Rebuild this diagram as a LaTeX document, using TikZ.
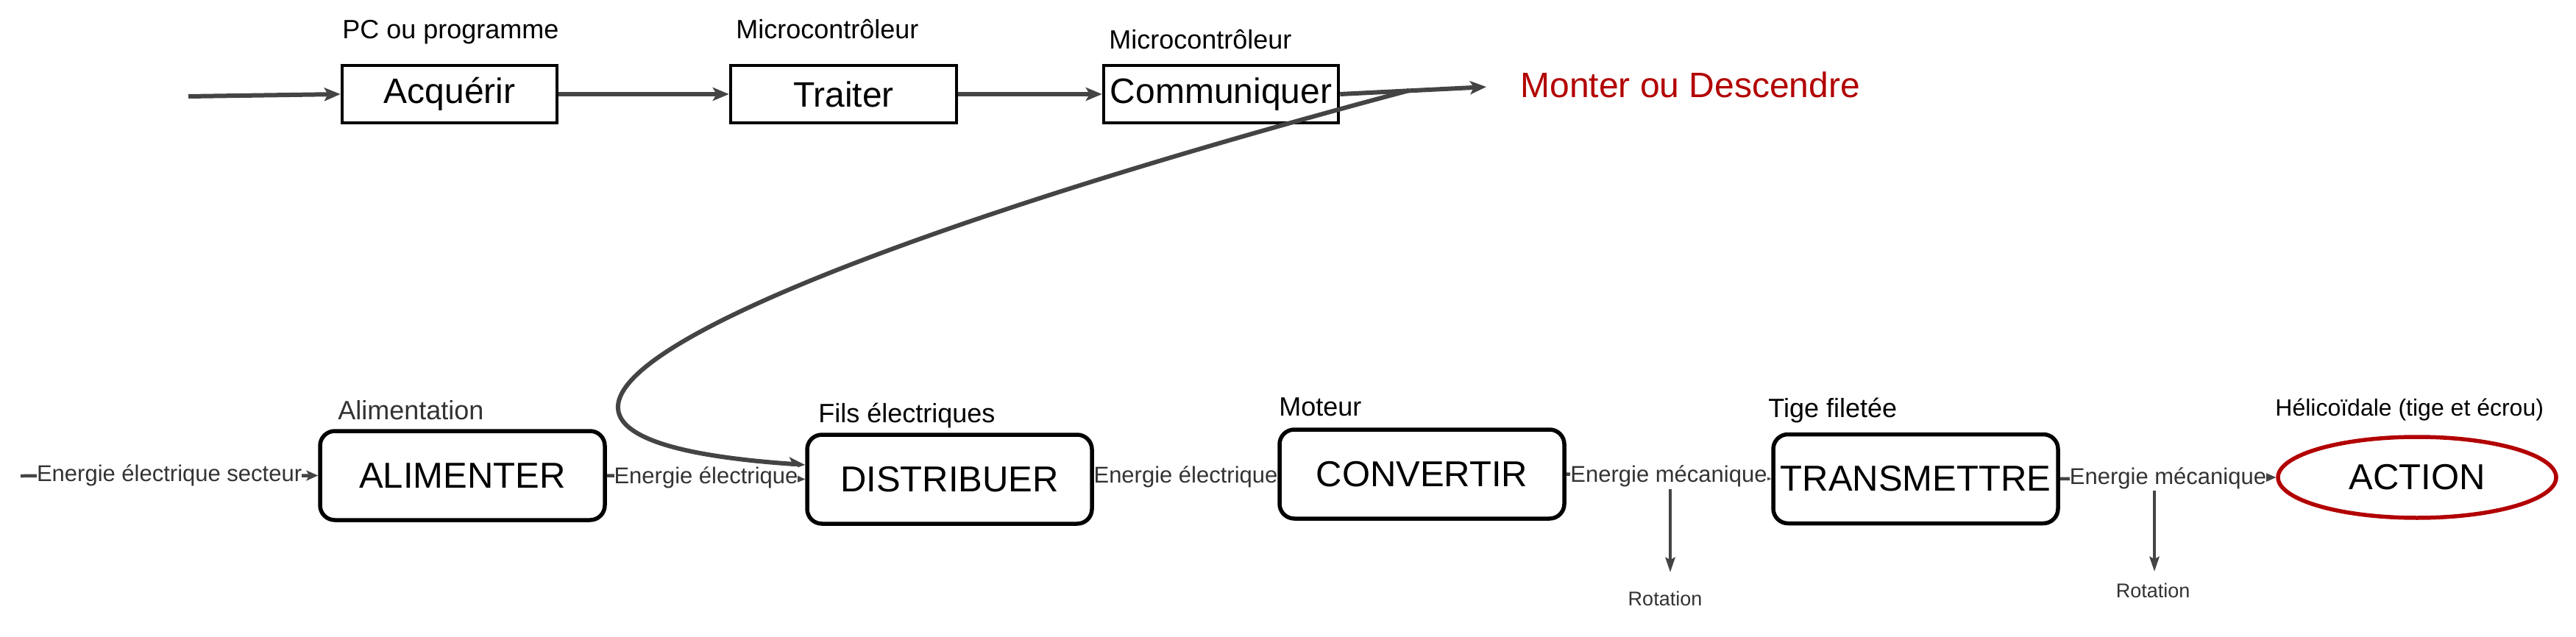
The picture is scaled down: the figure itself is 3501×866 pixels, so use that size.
\documentclass[tikz,border=0pt]{standalone}
\usepackage{fontspec}
\setmainfont{Liberation Sans}
\usetikzlibrary{arrows.meta,shapes.geometric}
\definecolor{arrowgray}{HTML}{444444}
\definecolor{labelgray}{HTML}{333333}
\definecolor{darkred}{RGB}{178,0,0}
\begin{document}
\begin{tikzpicture}[x=0.5pt,y=-0.5pt,
  topbox/.style={draw=black, line width=2.25pt, minimum height=39pt, inner sep=0pt, font=\fontsize{24}{28}\selectfont},
  funcbox/.style={draw=black, line width=2.75pt, rounded corners=10pt, minimum width=193.5pt, minimum height=60.5pt, inner sep=0pt, font=\fontsize{24.5}{28}\selectfont},
  toplabel/.style={anchor=base west, inner sep=0pt, font=\fontsize{18}{21}\selectfont},
  elabel/.style={fill=white, inner sep=0pt, text=labelgray, font=\fontsize{15.5}{18}\selectfont},
  rotlabel/.style={anchor=base, inner sep=0pt, text=labelgray, font=\fontsize{13.5}{16}\selectfont},
  arr/.style={draw=arrowgray, line width=3pt, -{Stealth[length=11pt,width=9pt,inset=2.5pt]}},
  earr/.style={draw=arrowgray, line width=2.25pt, -{Stealth[length=8pt,width=7pt,inset=2pt]}},
  rarr/.style={draw=arrowgray, line width=2.25pt, -{Stealth[length=10pt,width=6.5pt,inset=1.5pt]}},
]
\fill[white] (0,0) rectangle (3501,866);
\useasboundingbox (0,0) rectangle (3501,866);

% top row
\node[topbox, minimum width=146pt] (acq) at (611,128) {Acquérir};
\node[topbox, minimum width=153.5pt] (trait) at (1146.5,128) {Traiter};
\node[topbox, minimum width=159.5pt] (comm) at (1659.5,128) {Communiquer};
\node[toplabel] (lacq) at (465,53) {PC ou programme};
\node[toplabel] (ltrait) at (1000,53) {Microcontrôleur};
\node[toplabel] (lcomm) at (1507,67) {Microcontrôleur};
\node[anchor=base west, inner sep=0pt, text=darkred, font=\fontsize{24}{28}\selectfont] (mod) at (2066,133) {Monter ou Descendre};

% bottom row
\node[funcbox] (alim) at (628.5,646.5) {ALIMENTER};
\node[funcbox] (dist) at (1290.5,651.5) {DISTRIBUER};
\node[funcbox] (conv) at (1932.5,644.5) {CONVERTIR};
\node[funcbox] (trans) at (2603.5,651) {TRANSMETTRE};
\node[ellipse, draw=darkred, line width=2.75pt, minimum width=189pt, minimum height=55pt, inner sep=0pt, font=\fontsize{24.5}{28}\selectfont] (action) at (3285,649) {ACTION};

\node[toplabel, text=labelgray] (lalim) at (459,570) {Alimentation};
\node[toplabel] (ldist) at (1112,574) {Fils électriques};
\node[toplabel] (lconv) at (1738,565) {Moteur};
\node[toplabel] (ltrans) at (2403,567) {Tige filetée};
\node[toplabel, font=\fontsize{16}{19}\selectfont] (laction) at (3092,565) {Hélicoïdale (tige et écrou)};

% top connectors
\coordinate (in0) at (256,131);
\draw[arr] (in0) -- (acq.west);
\draw[arr] (acq.east) -- (trait.west);
\draw[arr] (trait.east) -- (comm.west);
\draw[arr, shorten >=23pt] (comm.east) -- (mod.west);
\coordinate (cs) at (1915,123);
\draw[arr] (cs) .. controls (1100,340) and (480,590) .. ([yshift=9.75pt]dist.west);

% bottom connectors
\coordinate (in1) at (28,647);
\draw[earr] (in1) -- node[elabel] (e0) {Energie électrique secteur} (alim.west);
\draw[earr] (alim.east) -- node[elabel] (e1) {Energie électrique} (dist.west);
\draw[earr] (dist.east) -- node[elabel] (e2) {Energie électrique} (conv.west);
\draw[earr] (conv.east) -- node[elabel] (e3) {Energie mécanique} (trans.west);
\draw[earr] (trans.east) -- node[elabel] (e4) {Energie mécanique} (action.west);

% rotation outputs
\node[rotlabel] (rot1) at (2263,823) {Rotation};
\node[rotlabel] (rot2) at (2926,812) {Rotation};
\coordinate (r1) at (2270,778);
\coordinate (r2) at (2928,777);
\draw[rarr] (e3.south -| r1) -- (r1);
\draw[rarr] (e4.south -| r2) -- (r2);
\end{tikzpicture}
\end{document}
